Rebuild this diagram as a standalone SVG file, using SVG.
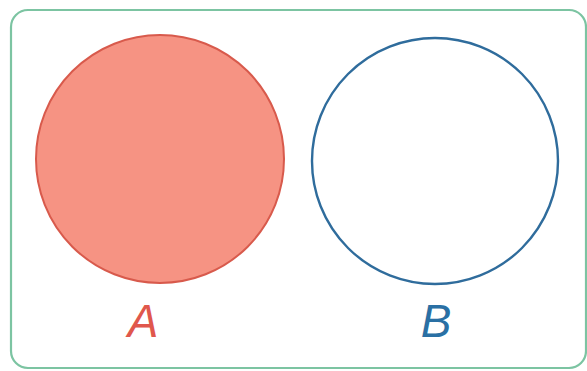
<svg xmlns="http://www.w3.org/2000/svg" width="587" height="371" viewBox="0 0 587 371">
<style>
.lbl{font-family:"Liberation Sans",Arial,sans-serif;font-style:italic;font-size:46px;text-anchor:middle}
</style>
<rect x="0" y="0" width="587" height="371" fill="#ffffff"/>
<rect id="frame" x="11" y="10" width="575" height="358" rx="17" fill="#ffffff" stroke="#7cc4a2" stroke-width="2.2"/>
<g id="setA">
<circle cx="160" cy="159" r="124" fill="#f69383" stroke="#d85a4c" stroke-width="2"/>
<text class="lbl" x="143" y="337" fill="#e0574c">A</text>
</g>
<g id="setB">
<circle cx="435" cy="161" r="123" fill="#ffffff" stroke="#2f6c9c" stroke-width="2.4"/>
<text class="lbl" x="436" y="337" fill="#2a70a4">B</text>
</g>
<g id="connectors"></g>
</svg>
